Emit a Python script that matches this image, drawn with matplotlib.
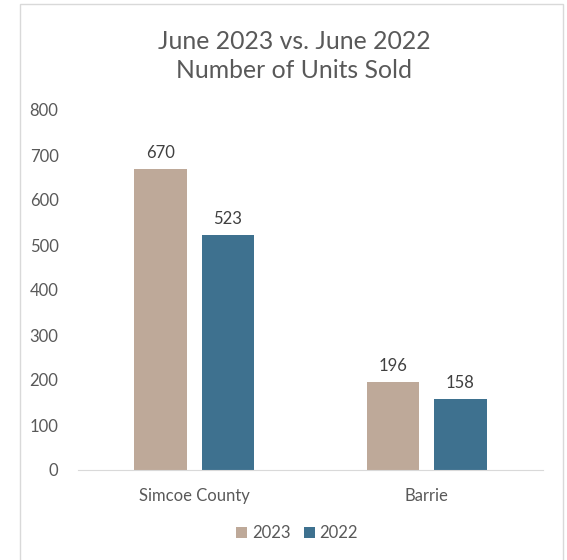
import numpy as np
import matplotlib.pyplot as plt
from matplotlib.patches import Rectangle

categories = ['Simcoe County', 'Barrie']
units_2023 = [670, 196]
units_2022 = [523, 158]
series_names = ['2023', '2022']

plt.rcParams['font.family'] = ['Lato', 'DejaVu Sans']

col_2023 = '#bea999'
col_2022 = '#3e718f'
txt_col = '#595959'

fig = plt.figure(figsize=(5.67, 5.6), dpi=100)
ax = fig.add_axes([78 / 567, 1 - 470 / 560, 465 / 567, 360 / 560])

# chart border like the spreadsheet frame
fig.patches.append(Rectangle((20 / 567, -0.01), 543 / 567, 1 - 4 / 560 + 0.01,
                             transform=fig.transFigure, fill=False,
                             edgecolor='#d9d9d9', lw=1.0))

x = np.arange(len(categories))
w = 0.224
off = 0.145
b1 = ax.bar(x - off, units_2023, w, color=col_2023, label=series_names[0])
b2 = ax.bar(x + off, units_2022, w, color=col_2022, label=series_names[1])

for bars in (b1, b2):
    for r in bars:
        ax.text(r.get_x() + r.get_width() / 2, r.get_height() + 17, str(int(r.get_height())),
                ha='center', va='bottom', fontsize=12, color='#404040')

ax.set_xlim(-0.5, 1.5)
ax.set_ylim(0, 800)
ax.set_yticks(range(0, 801, 100))
ax.set_xticks(x)
ax.set_xticklabels(categories)
ax.tick_params(axis='both', length=0, labelsize=12, colors=txt_col)
ax.tick_params(axis='y', pad=14)
ax.tick_params(axis='x', pad=13)
for s in ['top', 'right', 'left']:
    ax.spines[s].set_visible(False)
ax.spines['bottom'].set_color('#d9d9d9')

fig.text(294 / 567, 1 - 56 / 560, 'June 2023 vs. June 2022\nNumber of Units Sold',
         ha='center', va='center', fontsize=17.8, color=txt_col, linespacing=1.33)

fig.legend(handles=[b1, b2], loc='center', bbox_to_anchor=(297 / 567, 1 - 533 / 560),
           ncol=2, frameon=False, fontsize=12, handlelength=0.65, handleheight=0.65,
           handletextpad=0.3, columnspacing=0.8, labelcolor=txt_col)

fig.savefig('out.png', dpi=100)
